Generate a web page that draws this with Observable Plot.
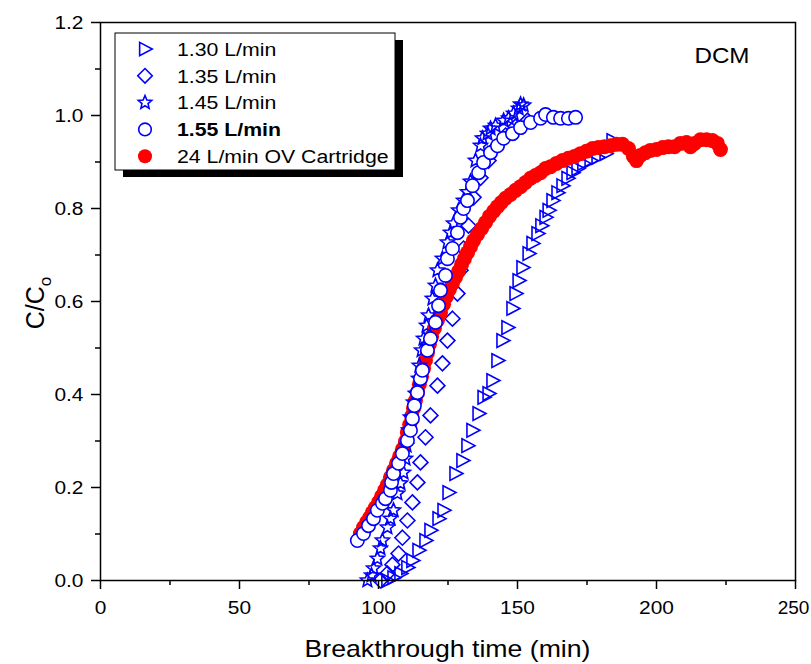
<!DOCTYPE html>
<html><head><meta charset="utf-8">
<script src="https://cdn.jsdelivr.net/npm/d3@7"></script>
<script src="https://cdn.jsdelivr.net/npm/@observablehq/plot@0.6"></script>
<style>
body{margin:0;background:#fff;}
#wrap{position:relative;width:811px;height:664px;}
</style></head><body><div id="wrap"></div>
<script>
// ---------- data ----------
const seriesNames = ["1.30 L/min","1.35 L/min","1.45 L/min","1.55 L/min","24 L/min OV Cartridge"];
const boldSeries = "1.55 L/min";
const annotation = ["DCM"];
const xTitle = "Breakthrough time (min)";
const yTitleMain = "C/C";
const yTitleSub = "o";
const xMajorTicks = [0,50,100,150,200,250];
const xMinorTicks = [25,75,125,175,225];
const yMajorTicks = [0,0.2,0.4,0.6,0.8,1.0,1.2];
const yMinorTicks = [0.1,0.3,0.5,0.7,0.9,1.1];

const t130 = [103.2,105.4,107.9,110.4,112.2,114.4,116.9,118.7,121.6,123.4,125.2,127.7,130.2,132.0,133.8,136.0,137.8,139.6,141.0,142.8,144.6,146.4,148.2,149.3,150.4,151.8,154.0,155.4,157.2,158.6,160.1,161.2,162.6,164.4,166.2,168.0,169.8,171.6,173.7,176.3,178.8,181.7,184.2];
const c130 = [0.000,0.006,0.015,0.028,0.043,0.065,0.086,0.108,0.133,0.151,0.189,0.230,0.258,0.290,0.323,0.359,0.394,0.402,0.430,0.473,0.516,0.544,0.585,0.617,0.645,0.673,0.703,0.725,0.746,0.763,0.781,0.796,0.817,0.834,0.849,0.865,0.877,0.886,0.897,0.903,0.910,0.918,0.946];

const t135 = [100.7,103.2,105.0,107.2,108.6,110.4,112.2,114.0,115.1,116.9,118.7,121.2,123.0,124.8,126.6,128.4,129.5,130.6,132.4,134.2,136.7,139.6,142.4,145.7,149.3,153.6];
const c135 = [0.000,0.015,0.034,0.058,0.092,0.129,0.168,0.211,0.254,0.308,0.355,0.419,0.467,0.516,0.563,0.617,0.667,0.714,0.763,0.824,0.866,0.903,0.933,0.957,0.976,0.989];

const t145 = [96.0,97.5,98.2,99.6,100.7,101.4,103.2,104.3,105.4,106.8,107.9,109.0,109.7,110.1,110.8,111.5,112.6,113.3,114.4,114.7,115.5,116.2,117.3,118.0,119.4,120.5,121.2,123.0,124.8,125.9,127.0,128.8,130.6,132.0,133.1,134.9,136.7,137.4,139.2,140.3,142.1,145.0,146.8,148.6,150.4,151.1,152.2];
const c145 = [0.000,0.011,0.026,0.047,0.069,0.086,0.114,0.133,0.151,0.187,0.209,0.232,0.262,0.290,0.323,0.351,0.383,0.402,0.434,0.462,0.495,0.520,0.548,0.570,0.606,0.634,0.667,0.692,0.727,0.748,0.768,0.796,0.817,0.835,0.858,0.903,0.935,0.951,0.961,0.972,0.978,0.989,0.994,1.004,1.015,1.024,1.022];

const t155 = [92.4,94.6,96.4,98.2,99.6,101.4,102.5,104.3,104.7,105.4,107.2,108.6,110.4,111.5,112.2,112.9,114.0,115.1,115.8,117.6,118.7,120.5,121.6,122.3,124.1,124.8,126.6,128.4,129.5,130.6,132.0,133.8,136.0,137.8,140.3,142.8,145.0,148.2,151.1,154.7,158.3,160.1,162.9,165.5,168.3,170.9];
const c155 = [0.086,0.101,0.118,0.133,0.151,0.166,0.176,0.194,0.211,0.230,0.252,0.273,0.301,0.323,0.348,0.376,0.404,0.434,0.452,0.495,0.520,0.555,0.591,0.624,0.656,0.692,0.714,0.748,0.781,0.800,0.817,0.849,0.877,0.899,0.920,0.935,0.951,0.961,0.974,0.985,0.994,1.002,0.996,0.994,0.994,0.996];

const tOV = [93.5,94.6,95.7,96.8,97.8,98.9,100.0,101.1,102.2,103.2,
104.3,105.4,106.5,107.6,108.6,109.7,110.4,111.2,111.9,112.6,
113.3,114.0,114.7,115.5,116.2,116.9,117.6,118.3,119.1,120.1,
121.2,122.3,123.4,124.5,125.5,126.6,127.7,128.8,129.9,130.9,
132.0,133.1,134.2,135.6,137.1,138.5,139.9,141.4,142.8,144.2,
145.7,147.5,149.3,151.1,152.9,154.7,156.5,158.3,160.1,161.9,
164.0,166.2,168.3,170.5,172.7,174.8,177.0,179.1,181.3,183.5,
185.6,187.8,189.9,191.7,192.8,194.2,196.0,197.8,200.0,202.2,
204.3,206.5,208.6,210.8,212.2,213.7,215.8,218.0,220.1,221.9,223.0];
const cOV = [0.101,0.114,0.125,0.135,0.146,0.157,0.168,0.181,0.194,0.206,
0.222,0.237,0.252,0.267,0.282,0.299,0.318,0.335,0.353,0.370,
0.387,0.404,0.422,0.439,0.456,0.473,0.490,0.508,0.525,0.542,
0.559,0.576,0.594,0.611,0.626,0.639,0.652,0.665,0.680,0.692,
0.705,0.718,0.731,0.744,0.757,0.770,0.783,0.794,0.804,0.813,
0.822,0.830,0.839,0.847,0.856,0.865,0.871,0.877,0.886,0.890,
0.897,0.903,0.908,0.912,0.918,0.923,0.929,0.931,0.933,0.935,
0.938,0.938,0.929,0.912,0.903,0.914,0.920,0.925,0.927,0.931,
0.933,0.933,0.940,0.942,0.933,0.940,0.948,0.948,0.946,0.940,0.927];

// ---------- helpers ----------
const rows = (xs, ys) => xs.map((x, i) => ({x, y: ys[i]}));
const d130 = rows(t130, c130), d135 = rows(t135, c135), d145 = rows(t145, c145), d155 = rows(t155, c155), dOV = rows(tOV, cOV);

const symTriRight = {draw(ctx, size){const r=Math.sqrt(size/Math.PI); ctx.moveTo(-0.85*r,-1.05*r); ctx.lineTo(1.15*r,0); ctx.lineTo(-0.85*r,1.05*r); ctx.closePath();}};
const symDiamond = {draw(ctx, size){const r=Math.sqrt(size/Math.PI)*1.15; ctx.moveTo(0,-r); ctx.lineTo(r,0); ctx.lineTo(0,r); ctx.lineTo(-r,0); ctx.closePath();}};
const symStar = {draw(ctx, size){const R=Math.sqrt(size/Math.PI)*1.12, ri=R*0.45; for(let k=0;k<10;k++){const a=-Math.PI/2+k*Math.PI/5, rr=k%2?ri:R, px=rr*Math.cos(a), py=rr*Math.sin(a); if(k) ctx.lineTo(px,py); else ctx.moveTo(px,py);} ctx.closePath();}};
const symCircle = {draw(ctx, size){const r=Math.sqrt(size/Math.PI); ctx.moveTo(r,0); ctx.arc(0,0,r,0,2*Math.PI); ctx.closePath();}};

const blue = "#0000ff", red = "#ff0000";
const FONT = "'Liberation Sans', Arial, Helvetica, sans-serif";
const STRETCH = 1.1;

const chart = Plot.plot({
  width: 811, height: 664,
  marginLeft: 100, marginRight: 16, marginTop: 22, marginBottom: 84,
  x: {domain: [0, 250]},
  y: {domain: [0, 1.2]},
  style: {fontFamily: FONT, fontSize: "19px", color: "black", background: "white"},
  marks: [
    Plot.dot(d130, {x: "x", y: "y", symbol: symTriRight, r: 6.5, stroke: blue, strokeWidth: 1.6, fill: "none"}),
    Plot.dot(d135, {x: "x", y: "y", symbol: symDiamond, r: 6.5, stroke: blue, strokeWidth: 1.6, fill: "none"}),
    Plot.dot(dOV, {x: "x", y: "y", r: 7.5, fill: red, stroke: "none"}),
    Plot.dot(d145, {x: "x", y: "y", symbol: symStar, r: 6.5, stroke: blue, strokeWidth: 1.6, fill: "none"}),
    Plot.dot(d155, {x: "x", y: "y", symbol: symCircle, r: 6.7, stroke: blue, strokeWidth: 1.6, fill: "white"}),
    Plot.axisX({ticks: xMajorTicks, tickSize: 9, tickPadding: 11, strokeWidth: 1.5, fontSize: 19, tickFormat: d => String(d), label: null}),
    Plot.axisX({ticks: xMinorTicks, tickSize: 5, strokeWidth: 1.5, tickFormat: () => "", label: null}),
    Plot.axisY({ticks: yMajorTicks, tickSize: 9, tickPadding: 8, strokeWidth: 1.5, fontSize: 19, tickFormat: d => d.toFixed(1), label: null}),
    Plot.axisY({ticks: yMinorTicks, tickSize: 5, strokeWidth: 1.5, tickFormat: () => "", label: null}),
    Plot.frame({stroke: "black", strokeWidth: 1.5}),
    Plot.text(annotation, {frameAnchor: "top-right", dx: -46, dy: 25, fontSize: 22, fill: "black"})
  ]
});
document.getElementById("wrap").appendChild(chart);

const svg = d3.select(chart);
// widen glyphs horizontally (reference font is wider than Arial) around each label's anchor;
// the last x tick label at the right edge is nudged in instead so it is not cut off
svg.selectAll("text").each(function () {
  const t = this.getAttribute("transform");
  if (!t || !/translate/.test(t)) return;
  if (this.textContent === String(xMajorTicks[xMajorTicks.length - 1])) this.setAttribute("transform", t + " translate(-2,0)");
  else this.setAttribute("transform", t + ` scale(${STRETCH},1)`);
});

// ---------- axis titles & legend ----------
svg.append("text").attr("x", 447.5).attr("y", 657).attr("text-anchor", "middle")
  .attr("font-family", FONT).attr("font-size", 24).attr("fill", "black")
  .attr("textLength", 286).attr("lengthAdjust", "spacingAndGlyphs").text(xTitle);
const yl = svg.append("text").attr("transform", "translate(44,303) rotate(-90)").attr("text-anchor", "middle")
  .attr("font-family", FONT).attr("font-size", 25).attr("fill", "black");
yl.append("tspan").text(yTitleMain);
yl.append("tspan").attr("dy", 7).attr("font-size", 17).text(yTitleSub);

const lg = svg.append("g").attr("font-family", FONT).attr("font-size", 19).attr("text-anchor", "start");
lg.append("rect").attr("x", 123).attr("y", 40).attr("width", 280).attr("height", 137).attr("fill", "black");
lg.append("rect").attr("x", 115).attr("y", 33).attr("width", 280).attr("height", 137).attr("fill", "white").attr("stroke", "black").attr("stroke-width", 1);
const legendSyms = [symTriRight, symDiamond, symStar, symCircle, null];
seriesNames.forEach((name, i) => {
  const cy = 49 + i * 26.8;
  if (legendSyms[i]) {
    lg.append("path").attr("transform", `translate(145,${cy})`)
      .attr("d", d3.symbol(legendSyms[i], Math.PI * 6.3 * 6.3)())
      .attr("fill", "none").attr("stroke", blue).attr("stroke-width", 1.6);
  } else {
    lg.append("circle").attr("cx", 145).attr("cy", cy).attr("r", 7).attr("fill", red);
  }
  lg.append("text").attr("transform", `translate(177,${cy}) scale(1.12,1)`).attr("dy", "0.36em").attr("fill", "black").attr("text-anchor", "start")
    .attr("font-weight", name === boldSeries ? "bold" : "normal").text(name);
});
</script>
</body></html>
